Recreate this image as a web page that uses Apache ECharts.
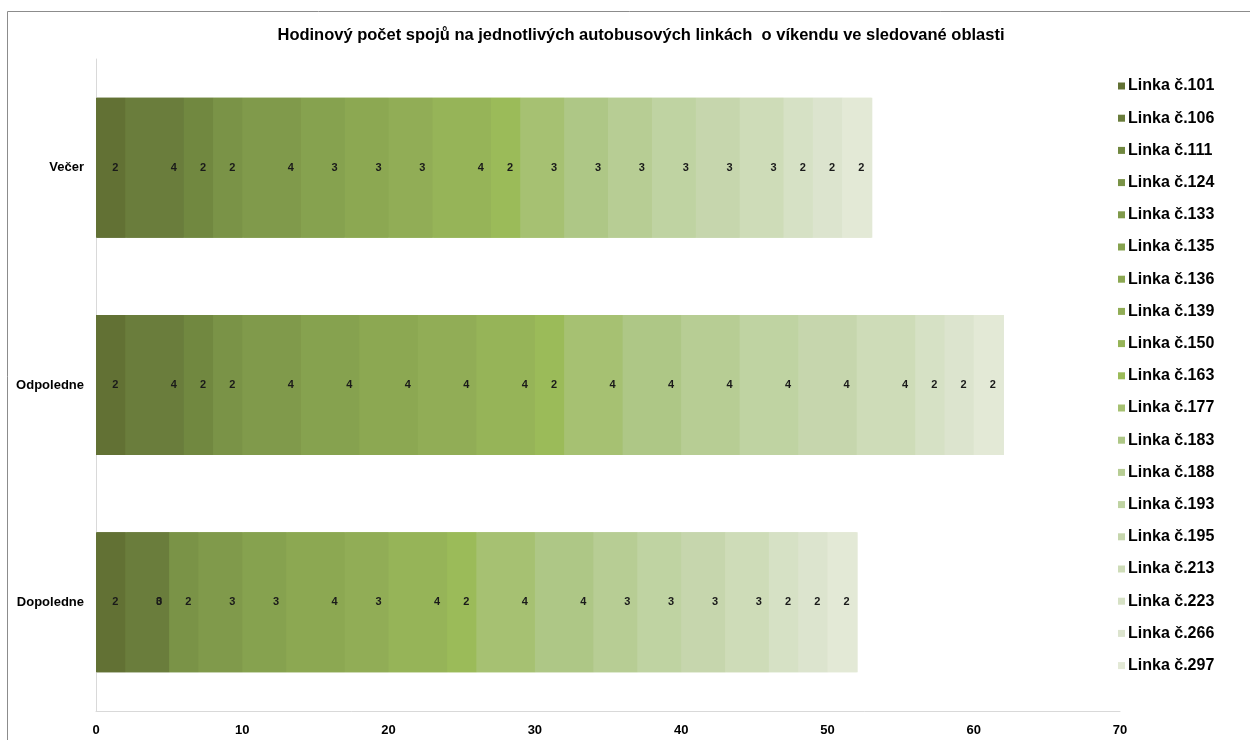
<!DOCTYPE html>
<html>
<head>
<meta charset="utf-8">
<script src="https://cdn.jsdelivr.net/npm/echarts@6/dist/echarts.min.js"></script>
<style>
  html, body { margin: 0; padding: 0; background: #fff; }
  #chart { width: 1250px; height: 740px; }
</style>
</head>
<body>
<div id="chart"></div>
<script>
// Time-of-day periods (bottom to top on the category axis)
const periods = ['Dopoledne', 'Odpoledne', 'Večer'];

// Bus lines, one stacked segment each
const lines = ['101', '106', '111', '124', '133', '135', '136', '139', '150', '163',
               '177', '183', '188', '193', '195', '213', '223', '266', '297'];

// Hourly number of connections per line, per period
const dopoledne = [2, 3, 0, 2, 3, 3, 4, 3, 4, 2, 4, 4, 3, 3, 3, 3, 2, 2, 2];
const odpoledne = [2, 4, 2, 2, 4, 4, 4, 4, 4, 2, 4, 4, 4, 4, 4, 4, 2, 2, 2];
const vecer     = [2, 4, 2, 2, 4, 3, 3, 3, 4, 2, 3, 3, 3, 3, 3, 3, 2, 2, 2];

// Value axis ticks
const xTicks = { min: 0, max: 70, interval: 10 };

// Olive-green shades, darkest to lightest
const colors = ['#627134', '#6a7d3c', '#718840', '#7a9347', '#809a4b', '#86a24f',
                '#8ca852', '#91ad56', '#96b458', '#9bbb59', '#a6c172', '#aec786',
                '#b7cd94', '#bfd3a2', '#c6d6ad', '#cedcb8', '#d6e1c5', '#dce4ce', '#e3e9d6'];

const fontFamily = "'Liberation Sans', Arial, sans-serif";

const series = lines.map((line, i) => ({
  name: 'Linka č.' + line,
  type: 'bar',
  stack: 'total',
  barWidth: 140,
  data: [dopoledne[i], odpoledne[i], vecer[i]],
  // a 1px same-colour shadow closes the anti-aliasing seam to the next segment
  itemStyle: { color: colors[i], shadowColor: colors[i], shadowBlur: 0, shadowOffsetX: 1 },
  label: {
    show: true,
    position: 'insideRight',
    distance: 7,
    color: '#1a1a1a',
    fontFamily: fontFamily,
    fontWeight: 'bold',
    fontSize: 11,
    textShadowBlur: 0,
    textShadowColor: 'transparent'
  },
  emphasis: { disabled: true }
}));

const chart = echarts.init(document.getElementById('chart'), null, { renderer: 'canvas' });
chart.setOption({
  animation: false,
  backgroundColor: '#ffffff',
  color: colors,
  title: {
    text: 'Hodinový počet spojů na jednotlivých autobusových linkách  o víkendu ve sledované oblasti',
    left: 636,
    textAlign: 'center',
    top: 22,
    textStyle: { fontFamily: fontFamily, fontWeight: 'bold', fontSize: 16.5, color: '#000' }
  },
  graphic: [{
    type: 'rect',
    shape: { x: 7.5, y: 11.5, width: 1300, height: 800 },
    style: { fill: 'none', stroke: '#8c8c8c', lineWidth: 1 },
    silent: true
  }],
  legend: {
    orient: 'vertical',
    left: 1113,
    top: 73,
    itemWidth: 7,
    itemHeight: 7,
    itemGap: 16.2,
    icon: 'rect',
    itemStyle: { shadowColor: 'transparent', shadowOffsetX: 0 },
    textStyle: { fontFamily: fontFamily, fontWeight: 'bold', fontSize: 16, color: '#000', lineHeight: 16, padding: [0, 0, 0, -2] },
    selectedMode: false
  },
  grid: { left: 96, right: 130, top: 59, bottom: 29 },
  xAxis: {
    type: 'value',
    min: xTicks.min,
    max: xTicks.max,
    interval: xTicks.interval,
    axisLine: { show: true, lineStyle: { color: '#d9d9d9', width: 1 } },
    axisTick: { show: false },
    splitLine: { show: false },
    axisLabel: { fontFamily: fontFamily, fontWeight: 'bold', fontSize: 13, color: '#000', margin: 13 }
  },
  yAxis: {
    type: 'category',
    data: periods,
    axisLine: { show: true, lineStyle: { color: '#d9d9d9', width: 1 } },
    axisTick: { show: false },
    axisLabel: { fontFamily: fontFamily, fontWeight: 'bold', fontSize: 13, color: '#000', margin: 12 }
  },
  series: series
});
</script>
</body>
</html>
